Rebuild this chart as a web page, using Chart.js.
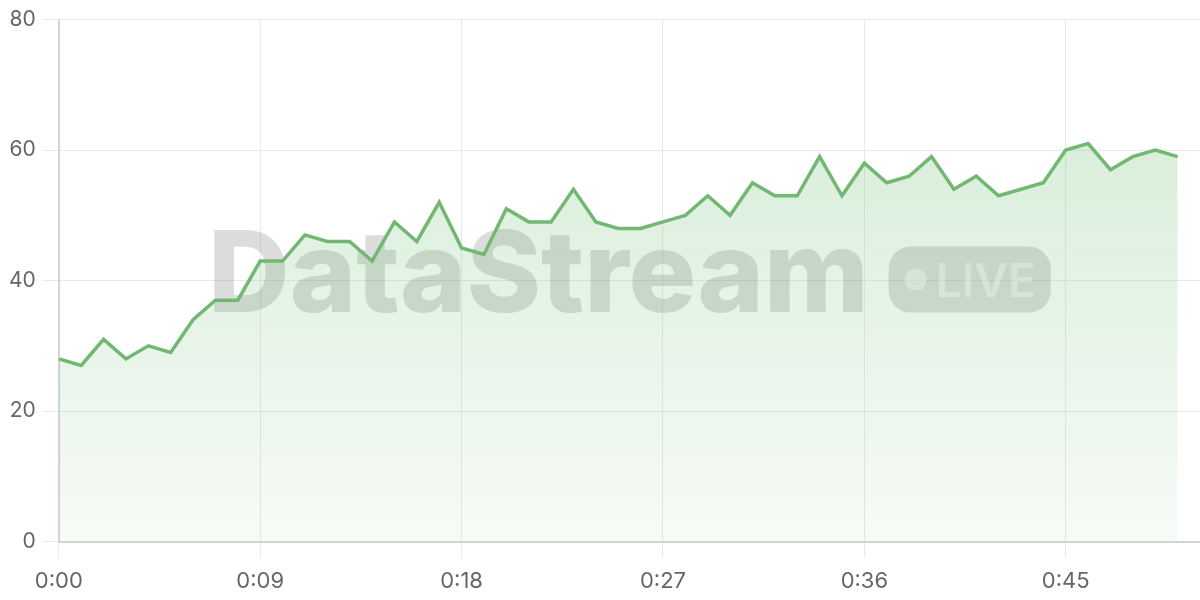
<!DOCTYPE html>
<html>
<head>
<meta charset="utf-8">
<script src="https://cdn.jsdelivr.net/npm/chart.js@4"></script>
<style>
  html, body { margin: 0; padding: 0; background: #fff; }
  #wrap { width: 1200px; height: 600px; position: relative; }
</style>
</head>
<body>
<div id="wrap"><canvas id="liveChart"></canvas></div>
<script>
const timeLabels = [
  "0:00", "0:01", "0:02", "0:03", "0:04", "0:05", "0:06", "0:07", "0:08", "0:09",
  "0:10", "0:11", "0:12", "0:13", "0:14", "0:15", "0:16", "0:17", "0:18", "0:19",
  "0:20", "0:21", "0:22", "0:23", "0:24", "0:25", "0:26", "0:27", "0:28", "0:29",
  "0:30", "0:31", "0:32", "0:33", "0:34", "0:35", "0:36", "0:37", "0:38", "0:39",
  "0:40", "0:41", "0:42", "0:43", "0:44", "0:45", "0:46", "0:47", "0:48", "0:49",
  "0:50", "0:51",
];

const streamValues = [
  28, 27, 31, 28, 30, 29, 34, 37, 37, 43,
  43, 47, 46, 46, 43, 49, 46, 52, 45, 44,
  51, 49, 49, 54, 49, 48, 48, 49, 50, 53,
  50, 55, 53, 53, 59, 53, 58, 55, 56, 59,
  54, 56, 53, 54, 55, 60, 61, 57, 59, 60,
  59,
];

const yTicks = [0, 20, 40, 60, 80];
const shownEvery = 9;

const lineColor = "#72b872";
const gridColor = "#e9e9e9";
const borderColor = "#d4d4d4";
const tickColor = "#666666";
const tickFont = "Inter, 'DejaVu Sans', sans-serif";

// marca d'água atrás das linhas
const watermark = {
  id: "watermark",
  beforeDatasetsDraw(chart) {
    const { ctx, chartArea } = chart;
    const cx = (chartArea.left + chartArea.right) / 2;
    const cy = (chartArea.top + chartArea.bottom) / 2;

    ctx.save();
    ctx.font = "800 117px Inter, 'Liberation Sans', sans-serif";
    let w = ctx.measureText("DataStream").width;
    const size = Math.round(117 * 660 / w);
    ctx.font = "800 " + size + "px Inter, 'Liberation Sans', sans-serif";
    w = ctx.measureText("DataStream").width;

    const pillW = 162, pillH = 66, gap = 20;
    const startX = cx - (w + gap + pillW) / 2;

    ctx.fillStyle = "rgba(120,120,120,0.26)";
    ctx.textBaseline = "alphabetic";
    ctx.textAlign = "left";
    ctx.fillText("DataStream", startX, cy + 31);

    const px = startX + w + gap, py = cy - 34;
    ctx.beginPath();
    ctx.roundRect(px, py, pillW, pillH, 22);
    ctx.fill();

    ctx.fillStyle = "rgba(255,255,255,0.5)";
    ctx.beginPath();
    ctx.arc(px + 27, cy - 1, 11, 0, Math.PI * 2);
    ctx.fill();
    ctx.font = "600 46px Inter, 'Liberation Sans', sans-serif";
    ctx.textBaseline = "alphabetic";
    ctx.fillText("LIVE", px + 47, cy + 16);
    ctx.restore();
  },
};

const canvas = document.getElementById("liveChart");

new Chart(canvas, {
  type: "line",
  data: {
    labels: timeLabels,
    datasets: [
      {
        label: "DataStream",
        data: streamValues,
        borderColor: lineColor,
        borderWidth: 3.5,
        pointRadius: 0,
        tension: 0,
        fill: "origin",
        backgroundColor: (ctx) => {
          const area = ctx.chart.chartArea;
          if (!area) return "rgba(102,187,106,0.15)";
          const g = ctx.chart.ctx.createLinearGradient(0, area.top, 0, area.bottom);
          g.addColorStop(0, "rgba(102,187,106,0.30)");
          g.addColorStop(1, "rgba(102,187,106,0.06)");
          return g;
        },
      },
    ],
  },
  options: {
    responsive: true,
    maintainAspectRatio: false,
    animation: false,
    layout: { padding: { top: 14, right: 0, bottom: -6, left: 2 } },
    plugins: {
      legend: { display: false },
      tooltip: { enabled: false },
    },
    scales: {
      x: {
        grid: { color: gridColor, tickLength: 16 },
        border: { color: borderColor, width: 2 },
        ticks: {
          autoSkip: false,
          maxRotation: 0,
          padding: 11,
          color: tickColor,
          font: { family: tickFont, size: 22 },
          callback: (val, i) => (i % shownEvery === 0 ? timeLabels[i] : null),
        },
      },
      y: {
        min: yTicks[0],
        max: yTicks[yTicks.length - 1],
        grid: { color: gridColor, tickLength: 16 },
        border: { color: borderColor, width: 2 },
        afterBuildTicks: (axis) => {
          axis.ticks = yTicks.map((v) => ({ value: v }));
        },
        ticks: {
          padding: 7,
          color: tickColor,
          font: { family: tickFont, size: 21 },
        },
      },
    },
  },
  plugins: [watermark],
});
</script>
</body>
</html>
